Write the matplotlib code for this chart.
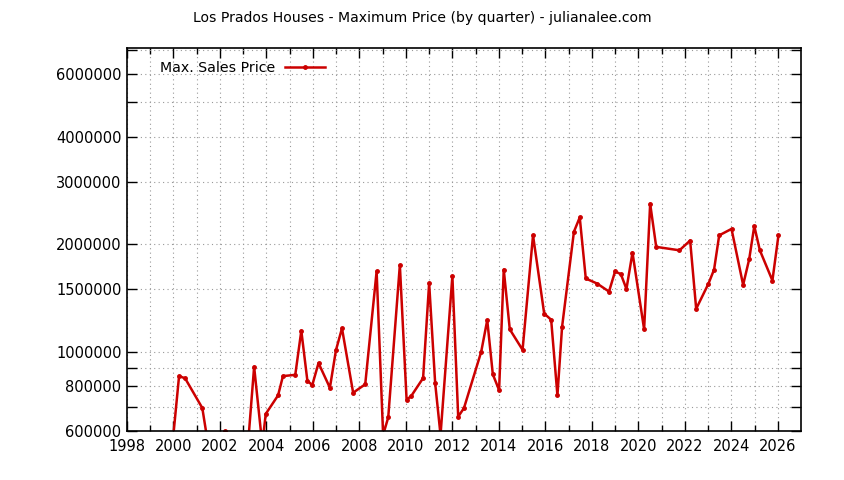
import numpy as np
import matplotlib.pyplot as plt
from matplotlib.ticker import FixedLocator, NullFormatter

# quarter positions (decimal year) and max sale price
years = [1999.99, 2000.24, 2000.5, 2001.24, 2001.49, 2002.23, 2002.5, 2002.75, 2003.0,
         2003.23, 2003.47, 2003.82, 2003.97, 2004.5, 2004.71, 2005.24, 2005.5, 2005.76,
         2005.97, 2006.24, 2006.73, 2006.99, 2007.25, 2007.73, 2008.25, 2008.74, 2009.02,
         2009.24, 2009.74, 2010.03, 2010.23, 2010.74, 2011.0, 2011.26, 2011.49, 2012.0,
         2012.25, 2012.5, 2013.24, 2013.5, 2013.74, 2014.01, 2014.21, 2014.47, 2015.02,
         2015.47, 2015.95, 2016.25, 2016.52, 2016.72, 2017.23, 2017.48, 2017.74, 2018.23,
         2018.74, 2019.0, 2019.25, 2019.49, 2019.75, 2020.25, 2020.51, 2020.77, 2021.77,
         2022.23, 2022.49, 2023.02, 2023.26, 2023.48, 2024.01, 2024.51, 2024.77, 2024.99,
         2025.23, 2025.77, 2026.03]
prices = [580000, 855000, 843000, 696000, 550000, 600000, 520000, 480000, 500000,
          575000, 908000, 550000, 670000, 755000, 855000, 862000, 1146000, 831000,
          806000, 930000, 793000, 1010000, 1164000, 768000, 811000, 1680000, 585000,
          655000, 1750000, 734000, 752000, 844000, 1557000, 816000, 585000, 1630000,
          658000, 696000, 1000000, 1227000, 865000, 781000, 1700000, 1156000, 1013000,
          2120000, 1280000, 1230000, 755000, 1175000, 2170000, 2380000, 1605000, 1553000,
          1475000, 1680000, 1650000, 1500000, 1897000, 1156000, 2600000, 1968000, 1925000,
          2050000, 1320000, 1553000, 1700000, 2120000, 2210000, 1540000, 1816000, 2250000,
          1925000, 1584000, 2120000]

ytick_vals = [600000, 700000, 800000, 900000, 1000000, 1500000, 2000000, 3000000,
              4000000, 5000000, 6000000, 7000000]
ytick_labels = ['600000', '', '800000', '', '1000000', '1500000', '2000000', '3000000',
                '4000000', '', '6000000', '']

plt.rcParams['font.family'] = ['DejaVu Sans']
plt.rcParams['font.size'] = 9.5

fig = plt.figure(figsize=(8.44, 4.8), dpi=100)
ax = fig.add_axes([127/844, 1 - 431/480, (801-127)/844, (431-48)/480])

ax.plot(years, prices, color='#cc0000', lw=1.8, marker='o', ms=2.5,
        label='Max. Sales Price')

ax.set_yscale('log')
ax.set_ylim(600000, 7100000)
ax.set_xlim(1998, 2027)

ax.yaxis.set_major_locator(FixedLocator(ytick_vals))
ax.yaxis.set_minor_locator(FixedLocator([]))
ax.set_yticklabels(ytick_labels)
ax.yaxis.set_minor_formatter(NullFormatter())

ax.set_xticks(np.arange(1998, 2027, 2))
ax.set_xticks(np.arange(1999, 2027, 2), minor=True)

ax.tick_params(which='both', direction='in', top=True, right=True, width=1)
ax.tick_params(which='major', length=7)
ax.tick_params(which='minor', length=4)
ax.tick_params(axis='x', which='major', labelsize=10.5, pad=6)
ax.tick_params(axis='y', labelsize=10.5, pad=4)

ax.grid(True, which='both', linestyle=(0, (1, 3)), color='#999999', lw=0.8)
for s in ax.spines.values():
    s.set_linewidth(1.2)

ax.legend(loc='upper left', frameon=False, markerfirst=False, handlelength=2.8,
          handletextpad=0.7, fontsize=10.2, bbox_to_anchor=(0.03, 1.0))

fig.text(0.5, 1 - 18/480, 'Los Prados Houses - Maximum Price (by quarter) - julianalee.com',
         ha='center', va='center', fontsize=10.1)

fig.savefig('out.png', dpi=100)
